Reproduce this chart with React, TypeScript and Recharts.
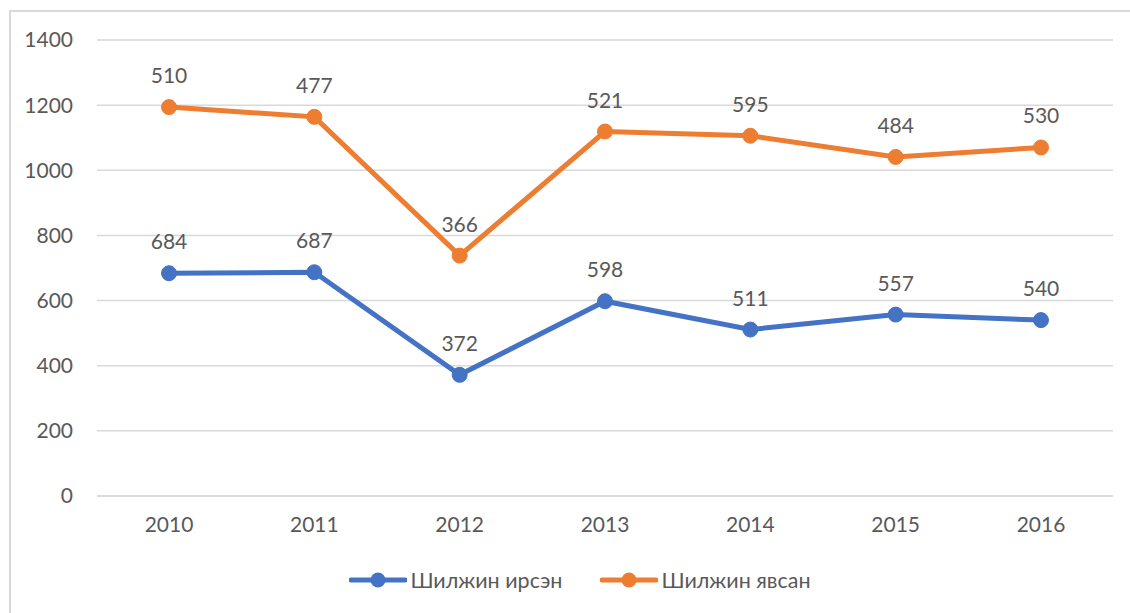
import { CartesianGrid, LabelList, Line, LineChart, XAxis, YAxis } from "recharts";

// Two series from the reference: people who moved in / moved out, stacked.
const YEARS = ["2010", "2011", "2012", "2013", "2014", "2015", "2016"];
const IRSEN = [684, 687, 372, 598, 511, 557, 540];
const YAVSAN = [510, 477, 366, 521, 595, 484, 530];
const Y_TICKS = [0, 200, 400, 600, 800, 1000, 1200, 1400];

const BLUE = "#4472C4";
const ORANGE = "#ED7D31";
const TEXT = "#595959";
const GRID = "#D9D9D9";
const FONT = "Lato, 'Open Sans', sans-serif";

// second series is drawn stacked on the first, but labelled with its own value
const data = YEARS.map((year, i) => ({
  year,
  irsen: IRSEN[i],
  yavsan: YAVSAN[i],
  total: IRSEN[i] + YAVSAN[i],
}));

const LegendItem = ({ color, label }: { color: string; label: string }) => (
  <span style={{ display: "inline-flex", alignItems: "center", margin: "0 19px" }}>
    <svg width={58} height={18}>
      <line x1={2} y1={9} x2={56} y2={9} stroke={color} strokeWidth={5} strokeLinecap="round" />
      <circle cx={29} cy={9} r={7.5} fill={color} />
    </svg>
    <span style={{ marginLeft: 3 }}>{label}</span>
  </span>
);

export default function App() {
  const tick = { fill: TEXT, fontSize: 21, fontFamily: FONT };
  const label = { fill: TEXT, fontSize: 21, fontFamily: FONT };

  return (
    <div style={{ position: "absolute", left: 0, top: 0, width: 1130, height: 613, background: "#fff" }}>
      <div
        style={{
          position: "absolute",
          left: 9,
          top: 10,
          width: 1140,
          height: 640,
          border: `2px solid ${GRID}`,
          boxSizing: "border-box",
        }}
      />
      <LineChart
        width={1130}
        height={613}
        data={data}
        margin={{ top: 40, right: 17, bottom: 87, left: 0 }}
        style={{ position: "absolute", left: 0, top: 0 }}
      >
        <CartesianGrid vertical={false} stroke={GRID} strokeWidth={1.5} />
        <XAxis
          dataKey="year"
          height={30}
          padding={{ left: 72, right: 72 }}
          axisLine={{ stroke: GRID, strokeWidth: 1.5 }}
          tickLine={false}
          tickSize={0}
          tickMargin={21}
          tick={tick}
        />
        <YAxis
          domain={[0, 1400]}
          ticks={Y_TICKS}
          width={97}
          axisLine={false}
          tickLine={false}
          tickSize={0}
          tickMargin={24}
          tick={tick}
        />
        <Line
          dataKey="irsen"
          stroke={BLUE}
          strokeWidth={5}
          dot={{ r: 7.5, fill: BLUE, stroke: BLUE, strokeWidth: 1 }}
          activeDot={false}
          isAnimationActive={false}
        >
          <LabelList dataKey="irsen" position="top" offset={24} style={label} />
        </Line>
        <Line
          dataKey="total"
          stroke={ORANGE}
          strokeWidth={5}
          dot={{ r: 7.5, fill: ORANGE, stroke: ORANGE, strokeWidth: 1 }}
          activeDot={false}
          isAnimationActive={false}
        >
          <LabelList dataKey="yavsan" position="top" offset={24} style={label} />
        </Line>
      </LineChart>
      <div
        style={{
          position: "absolute",
          left: 0,
          top: 567,
          width: 1160,
          display: "flex",
          justifyContent: "center",
          color: TEXT,
          fontSize: 21.5,
          fontFamily: FONT,
        }}
      >
        <LegendItem color={BLUE} label="Шилжин ирсэн" />
        <LegendItem color={ORANGE} label="Шилжин явсан" />
      </div>
    </div>
  );
}
